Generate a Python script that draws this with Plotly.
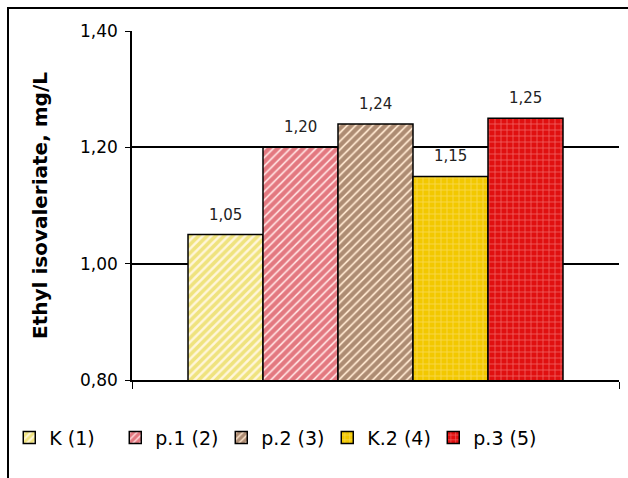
import plotly.graph_objects as go

categories = ["1"]
series_names = ["K (1)", "p.1 (2)", "p.2 (3)", "K.2 (4)", "p.3 (5)"]
series_values = [1.05, 1.20, 1.24, 1.15, 1.25]
y_ticks = [0.80, 1.00, 1.20, 1.40]

styles = [
    dict(shape="/", fg="#E0D020", bg="#FFF6DC", size=6, sol=0.6),
    dict(shape="/", fg="#C80F20", bg="#FFE0E0", size=6, sol=0.7),
    dict(shape="/", fg="#5C3016", bg="#FFE8D0", size=6, sol=0.7),
    dict(shape="+", fg="#FFE9A8", bg="#F2C800", size=6, sol=0.25),
    dict(shape="+", fg="#FFB4B4", bg="#E01010", size=6, sol=0.25),
]

FONT = "DejaVu Sans, Liberation Sans, Arial, sans-serif"

fig = go.Figure()
for name, val, st in zip(series_names, series_values, styles):
    fig.add_trace(go.Bar(
        x=categories, y=[val], name=name,
        marker=dict(
            color=st["bg"],
            line=dict(color="black", width=1.5),
            pattern=dict(shape=st["shape"], fgcolor=st["fg"], bgcolor=st["bg"],
                         size=st["size"], solidity=st["sol"], fillmode="overlay"),
        ),
        hoverinfo="skip",
    ))

# value labels above the bars
bargap = 0.23
n = len(series_values)
w = (1 - bargap) / n
for i, val in enumerate(series_values):
    xc = -(1 - bargap) / 2 + w * (i + 0.5)
    fig.add_annotation(x=xc, y=val, xref="x", yref="y", text=f"{val:.2f}".replace(".", ","),
                       showarrow=False, yanchor="bottom", yshift=9,
                       font=dict(family=FONT, size=15, color="#222222"))

# outer chart border (only top and left edges visible)
fig.add_shape(type="rect", xref="paper", yref="paper",
              x0=(8 - 132) / 487, x1=2.0,
              y0=-2.0, y1=(380 - 8) / 349,
              line=dict(color="black", width=2), fillcolor="rgba(0,0,0,0)", layer="below")

fig.update_layout(
    width=628, height=478,
    margin=dict(l=132, r=9, t=31, b=98),
    paper_bgcolor="white", plot_bgcolor="white",
    barmode="group", bargap=bargap, bargroupgap=0,
    separators=",.",
    font=dict(family=FONT, size=17, color="black"),
    showlegend=True,
    legend=dict(orientation="h", x=-0.252, xanchor="left", y=-0.165, yanchor="middle",
                font=dict(family=FONT, size=19, color="black"),
                entrywidth=61, entrywidthmode="pixels", itemwidth=30,
                bgcolor="rgba(0,0,0,0)", traceorder="normal"),
    xaxis=dict(showticklabels=False, showline=True, linecolor="black", linewidth=1.5,
               ticks="outside", ticklen=7, tickcolor="black", showgrid=False,
               tickmode="array", tickvals=[-0.5, 0.5], range=[-0.5, 0.5]),
    yaxis=dict(range=[0.8, 1.4], tickvals=y_ticks, tickformat=".2f",
               showline=True, linecolor="black", linewidth=1.5,
               ticks="outside", ticklen=5, tickcolor="black",
               showgrid=True, gridcolor="black", gridwidth=1.5,
               zeroline=False, ticklabelstandoff=4,
               tickfont=dict(family=FONT, size=17, color="black"),
               title=dict(text="<b>Ethyl isovaleriate, mg/L</b>", standoff=27,
                          font=dict(family=FONT, size=20, color="black"))),
)

fig.write_html("out.html")
